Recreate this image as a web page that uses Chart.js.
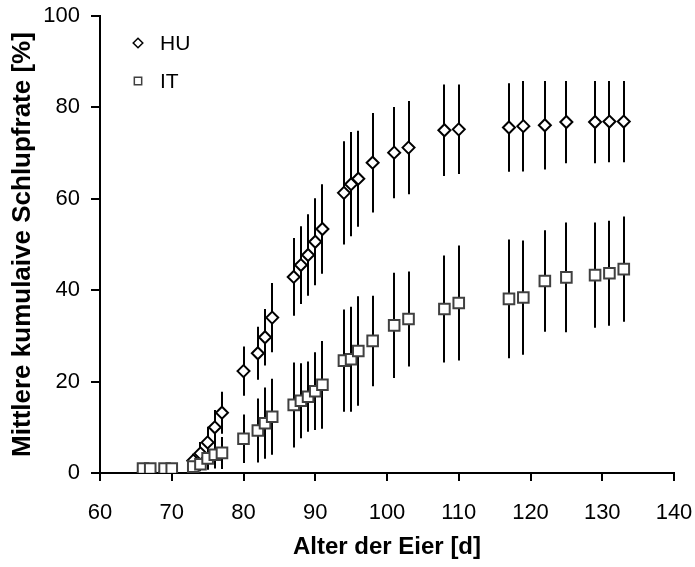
<!DOCTYPE html>
<html>
<head>
<meta charset="utf-8">
<script src="https://cdn.jsdelivr.net/npm/chart.js@4/dist/chart.umd.min.js"></script>
<style>
  html, body { margin: 0; padding: 0; background: #fff; }
  #wrap { width: 695px; height: 567px; }
</style>
</head>
<body>
<div id="wrap"><canvas id="chart" width="695" height="567"></canvas></div>
<script>
// Alter der Eier (Tage)
const days = [66, 67, 69, 70, 73, 74, 75, 76, 77, 80, 82, 83, 84, 87, 88, 89, 90, 91,
              94, 95, 96, 98, 101, 103, 108, 110, 117, 119, 122, 125, 129, 131, 133];

// HU - mittlere kumulative Schlupfrate und Fehler
const huValues = [0, 0, 0, 0, 2.7, 4.3, 6.7, 10.0, 13.2, 22.3, 26.2, 29.7, 34.0, 42.9, 45.5, 47.7, 50.6, 53.4,
                  61.3, 63.2, 64.4, 67.9, 70.1, 71.2, 75.0, 75.2, 75.6, 75.9, 76.1, 76.8, 76.8, 76.9, 76.9];
const huErr = [0, 0, 0, 0, 1.5, 2.5, 3.4, 3.8, 4.6, 5.4, 5.8, 6.2, 7.6, 8.5, 8.5, 8.9, 9.5, 9.8,
               11.3, 11.4, 10.5, 10.9, 10.0, 10.2, 10.0, 9.8, 9.7, 9.9, 9.7, 9.0, 9.0, 8.9, 8.9];

// IT
const itValues = [1.0, 1.0, 1.0, 1.0, 1.4, 1.9, 3.2, 4.0, 4.4, 7.5, 9.3, 10.9, 12.3, 14.9, 15.8, 16.7, 17.9, 19.3,
                  24.6, 24.9, 26.7, 28.9, 32.3, 33.7, 35.9, 37.2, 38.1, 38.4, 42.0, 42.8, 43.3, 43.7, 44.6];
const itErr = [0, 0, 0, 0, 1.0, 1.5, 2.5, 3.0, 3.5, 5.3, 7.0, 7.8, 8.3, 9.3, 8.2, 7.7, 8.5, 9.6,
               11.2, 11.5, 12.0, 9.9, 11.5, 10.4, 11.7, 12.6, 13.0, 12.5, 11.1, 12.0, 11.5, 11.5, 11.5];

const fontFamily = '"Liberation Sans", Arial, sans-serif';

const toPoints = (vals) => vals.map((v, i) => ({ x: days[i], y: v }));

// error bars, drawn behind the markers
const errorBars = {
    id: 'errorBars',
    beforeDatasetsDraw(chart) {
        const ctx = chart.ctx;
        const xs = chart.scales.x, ys = chart.scales.y;
        ctx.save();
        ctx.strokeStyle = '#000';
        ctx.lineWidth = 2;
        chart.data.datasets.forEach(ds => {
            ds.data.forEach((p, i) => {
                const e = ds.errors[i];
                if (!e) return;
                const px = Math.round(xs.getPixelForValue(p.x));
                ctx.beginPath();
                ctx.moveTo(px, ys.getPixelForValue(p.y + e));
                ctx.lineTo(px, ys.getPixelForValue(p.y - e));
                ctx.stroke();
            });
        });
        ctx.restore();
    }
};

// legend inside the plot, top left
const innerLegend = {
    id: 'innerLegend',
    afterDraw(chart) {
        const ctx = chart.ctx;
        const area = chart.chartArea;
        const items = [chart.data.datasets[1], chart.data.datasets[0]]; // HU first
        ctx.save();
        ctx.font = '21px ' + fontFamily;
        ctx.textBaseline = 'middle';
        items.forEach((ds, i) => {
            const y = area.top + 27 + i * 38;
            ctx.strokeStyle = ds.borderColor;
            ctx.fillStyle = '#fff';
            ctx.lineWidth = 1.5;
            Chart.helpers.drawPoint(ctx, {
                pointStyle: ds.pointStyle,
                radius: ds.pointStyle === 'rect' ? 5.2 : 4.8,
                borderWidth: 1.5,
                rotation: 0
            }, area.left + 38, y);
            ctx.fillStyle = '#000';
            ctx.fillText(ds.label, area.left + 60, y + 1);
        });
        ctx.restore();
    }
};

new Chart(document.getElementById('chart'), {
    type: 'scatter',
    data: {
        datasets: [
            {
                label: 'IT',
                data: toPoints(itValues),
                errors: itErr,
                pointStyle: 'rect',
                pointRadius: 7.5,
                borderColor: '#404040',
                backgroundColor: '#fff',
                pointBorderWidth: 2,
                order: 0
            },
            {
                label: 'HU',
                data: toPoints(huValues),
                errors: huErr,
                pointStyle: 'rectRot',
                pointRadius: 6,
                borderColor: '#000',
                backgroundColor: '#fff',
                pointBorderWidth: 2,
                order: 1
            }
        ]
    },
    options: {
        responsive: false,
        animation: false,
        layout: { padding: { top: 16, right: 21, left: 0, bottom: 0 } },
        plugins: {
            legend: { display: false },
            tooltip: { enabled: false }
        },
        scales: {
            x: {
                type: 'linear',
                min: 60,
                max: 140,
                afterFit: s => { s.height = 94; s.paddingLeft = 0; s.paddingRight = 0; },
                ticks: {
                    stepSize: 10,
                    color: '#000',
                    padding: 19,
                    font: { family: fontFamily, size: 22 }
                },
                grid: { drawOnChartArea: false, tickLength: 8, color: '#000', lineWidth: 2 },
                border: { color: '#000', width: 2 },
                title: {
                    display: true,
                    text: 'Alter der Eier [d]',
                    color: '#000',
                    padding: { top: 0, bottom: 5 },
                    font: { family: fontFamily, size: 24, weight: 'bold' }
                }
            },
            y: {
                min: 0,
                max: 100,
                afterFit: s => { s.width = 100; s.paddingTop = 0; s.paddingBottom = 0; },
                ticks: {
                    stepSize: 20,
                    color: '#000',
                    padding: 11,
                    font: { family: fontFamily, size: 22 }
                },
                grid: { drawOnChartArea: false, tickLength: 9, color: '#000', lineWidth: 2 },
                border: { color: '#000', width: 2 },
                title: {
                    display: true,
                    text: 'Mittlere kumulaive Schlupfrate [%]',
                    color: '#000',
                    padding: { top: 7, bottom: 0 },
                    font: { family: fontFamily, size: 26, weight: 'bold' }
                }
            }
        }
    },
    plugins: [errorBars, innerLegend]
});
</script>
</body>
</html>
